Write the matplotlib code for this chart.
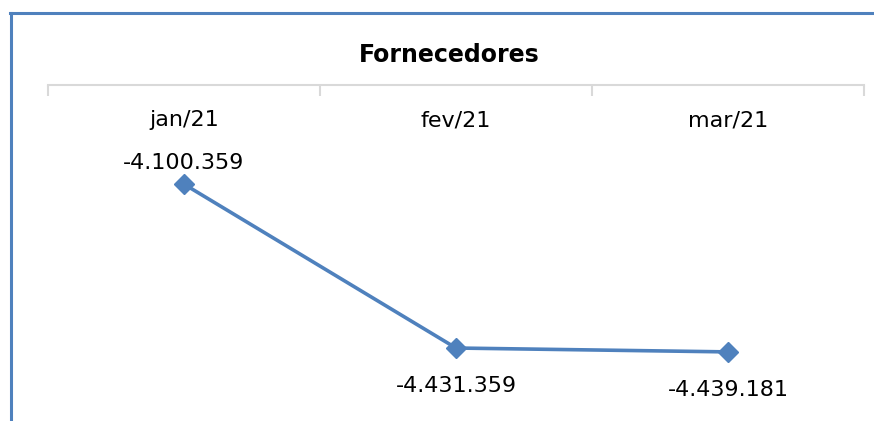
import matplotlib.pyplot as plt
import numpy as np

# dados
meses = ["jan/21", "fev/21", "mar/21"]
valores = [-4100359, -4431359, -4439181]
rotulos = ["-4.100.359", "-4.431.359", "-4.439.181"]

azul = "#4F81BD"
cinza = "#D9D9D9"

fig = plt.figure(figsize=(8.74, 4.21), dpi=100)
W, H = 874, 421

# moldura azul (topo e esquerda)
fig.add_artist(plt.Line2D([10 / W, 1], [1 - 13 / H, 1 - 13 / H], color=azul, lw=2.2))
fig.add_artist(plt.Line2D([11 / W, 11 / W], [0, 1 - 13 / H], color=azul, lw=2.2))

ax = fig.add_axes([48 / W, 1 - 382 / H, (864 - 48) / W, (382 - 85) / H])

x = np.arange(len(meses))
ax.plot(x, valores, color=azul, lw=2.6, marker="D", markersize=10, zorder=3)

ax.set_xlim(-0.5, 2.5)
ax.set_ylim(-4500000, -3900000)

for s in ["left", "right", "bottom"]:
    ax.spines[s].set_visible(False)
ax.spines["top"].set_color(cinza)
ax.spines["top"].set_linewidth(1.5)

# separadores no eixo superior
ax.xaxis.tick_top()
ax.set_xticks([-0.5, 0.5, 1.5, 2.5])
ax.set_xticklabels([])
ax.tick_params(axis="x", direction="in", length=8, width=1.5, color=cinza)
ax.set_yticks([])

# nomes dos meses logo abaixo da linha do eixo
for i, m in enumerate(meses):
    ax.text(x[i], 1 - 35 / 297, m, transform=ax.get_xaxis_transform(),
            ha="center", va="center", fontsize=16)

# rotulos de dados
ax.annotate(rotulos[0], (x[0], valores[0]), xytext=(0, 8), textcoords="offset points",
            ha="center", va="bottom", fontsize=16)
for i in [1, 2]:
    ax.annotate(rotulos[i], (x[i], valores[i]), xytext=(0, -20), textcoords="offset points",
                ha="center", va="top", fontsize=16)

fig.text(449 / W, 1 - 55 / H, "Fornecedores", ha="center", va="center",
         fontsize=17, fontweight="bold")

fig.savefig("out.png", dpi=100)
